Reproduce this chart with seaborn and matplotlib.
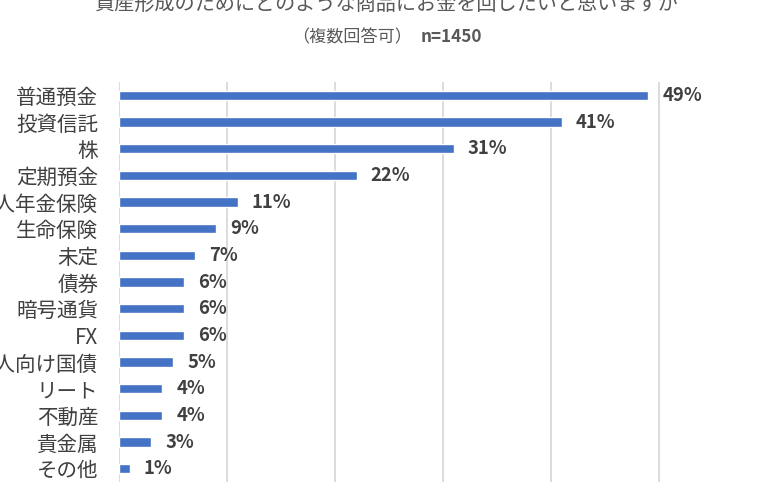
import matplotlib
matplotlib.use('Agg')
import matplotlib.pyplot as plt
import seaborn as sns
import pandas as pd

# Data
categories = ['普通預金', '投資信託', '株', '定期預金', '個人年金保険', '生命保険', '未定',
              '債券', '暗号通貨', 'FX', '個人向け国債', 'リート', '不動産', '貴金属', 'その他']
values = [49, 41, 31, 22, 11, 9, 7, 6, 6, 6, 5, 4, 4, 3, 1]
grid_ticks = [0, 10, 20, 30, 40, 50]

title_line1 = '資産形成のためにどのような商品にお金を回したいと思いますか'
title_line2 = '（複数回答可）'
title_n = 'n=1450'

df = pd.DataFrame({'item': categories, 'pct': values})

sns.set_theme(style='white')
plt.rcParams['font.family'] = ['Noto Sans CJK JP', 'DejaVu Sans']

W, H = 765, 501
fig = plt.figure(figsize=(W / 100, H / 100), dpi=100)
ax = fig.add_axes([119 / W, (H - 482) / H, (W - 119) / W, 400 / H])

sns.barplot(data=df, x='pct', y='item', orient='h', color='#4472C4',
            width=0.35, saturation=1, ax=ax)

ax.set_xlim(0, (W - 119) / 10.8)
ax.set_xticks(grid_ticks)
ax.xaxis.grid(True, color='#d9d9d9', linewidth=1.3)
ax.set_axisbelow(True)
ax.tick_params(axis='x', length=0, labelbottom=False)
ax.tick_params(axis='y', length=0, pad=15, labelsize=14.8, labelcolor='#404040')
ax.set_xlabel('')
ax.set_ylabel('')
for s in ax.spines.values():
    s.set_visible(False)

# Value labels
for i, v in enumerate(values):
    ax.text(v + 1.3, i, f'{v}%', va='center', ha='left', fontsize=13.3,
            fontweight='bold', color='#404040')

# Title lines
fig.text(386 / W, 1 - 5 / H, title_line1, ha='center', va='center',
         fontsize=14.5, color='#595959')
fig.text(412 / W, 1 - 37 / H, title_line2, ha='right', va='center',
         fontsize=12.3, color='#595959')
fig.text(421 / W, 1 - 37 / H, title_n, ha='left', va='center',
         fontsize=12.3, fontweight='bold', color='#595959')

fig.savefig('out.png', dpi=100)
